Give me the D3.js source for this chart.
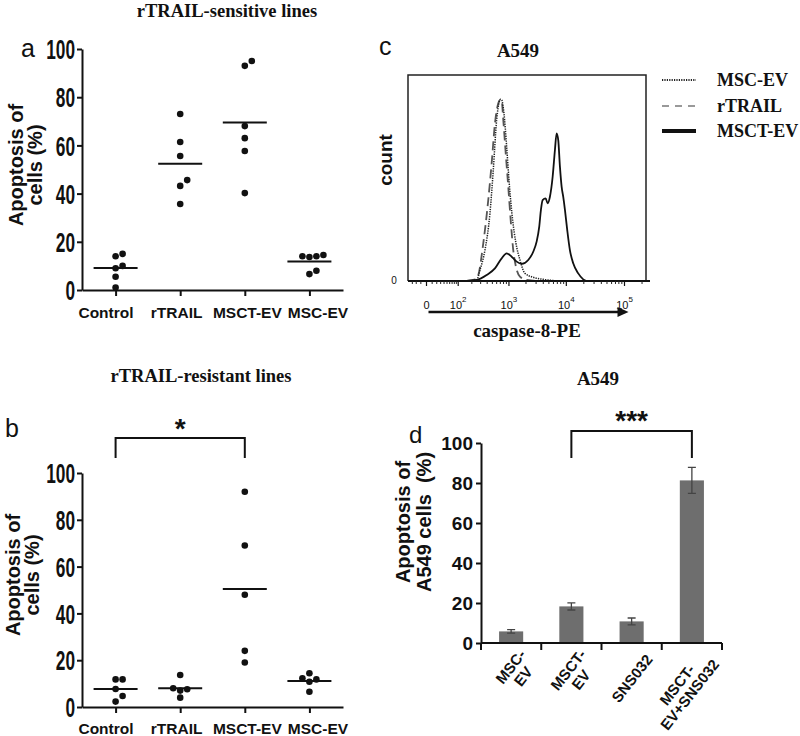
<!DOCTYPE html>
<html>
<head>
<meta charset="utf-8">
<script src="https://cdn.jsdelivr.net/npm/d3@7"></script>
<style>
body { margin: 0; background: #fff; }
svg text { fill: #111; }
.sans { font-family: "Liberation Sans", Arial, sans-serif; font-weight: bold; }
.serif { font-family: "Liberation Serif", "Times New Roman", serif; font-weight: bold; }
.axis path, .axis line { stroke: #111; stroke-width: 2; }
.ytick text { font-family: "Liberation Sans", Arial, sans-serif; font-weight: bold; font-size: 27px; }
.dtick text { font-family: "Liberation Sans", Arial, sans-serif; font-weight: bold; font-size: 19px; }
</style>
</head>
<body>
<div id="canvas"></div>
<script>
// ---- data ----
var groupsAB = ['Control', 'rTRAIL', 'MSCT-EV', 'MSC-EV'];
var yTicks = [0, 20, 40, 60, 80, 100];

// a: rTRAIL-sensitive lines
var sensControl = [1, 5.5, 9, 10, 14, 15];
var sensRtrail  = [35.7, 43.2, 45.6, 55.6, 61.4, 73];
var sensMsct    = [40.2, 57.7, 63, 68, 93, 95];
var sensMsc     = [6.6, 8, 13.7, 14, 14, 14.5];

// b: rTRAIL-resistant lines
var resControl = [2.3, 4.7, 7.7, 11.8, 11.8];
var resRtrail  = [4.0, 7.0, 7.6, 8.0, 13.7];
var resMsct    = [19, 24, 48, 69, 92];
var resMsc     = [6.5, 10.8, 11.8, 12.3, 14.4];

// c: flow histograms (caspase-8-PE, count)
var mscEvFl    = [156, 250, 291, 363, 451, 520, 600, 670, 710, 740, 814, 910, 1012, 1163, 1332, 1568, 1917, 2676, 3988, 7760];
var mscEvCount = [0, 0.5, 5.3, 15, 32.9, 53.9, 78.2, 87, 88.2, 87.9, 81.4, 65.2, 47.4, 29.6, 18.3, 10.2, 3.7, 1.8, 0.8, 0];
var rtrailFl    = [156, 242, 270, 337, 419, 485, 558, 642, 689, 740, 791, 884, 972, 1085, 1193, 1332, 1568, 2052, 3500];
var rtrailCount = [0, 0.8, 2.9, 18.3, 39.3, 57.1, 76.5, 86.3, 87.9, 87.5, 78.2, 60.4, 45.8, 28.0, 15.0, 6.9, 2.1, 0.5, 0];
var msctEvFl    = [156, 250, 391, 558, 740, 910, 1116, 1370, 1677, 2189, 2676, 3064, 3404, 3640, 3896, 4396, 4756, 5212, 5808, 6360, 6800, 7256, 7760, 8296, 8840, 9468, 10360, 11524, 13144, 16032, 19552, 22352];
var msctEvCount = [0, 0.5, 2.9, 6.1, 11.0, 13.4, 11.8, 9.4, 8.3, 10.2, 14.2, 19.1, 26.4, 34.5, 39.3, 40.1, 37.7, 40.9, 50.6, 63.6, 71.7, 68.4, 55.5, 45.8, 40.9, 34.5, 24.8, 15.0, 8.6, 3.7, 0.8, 0];
var flMajor = [0, 100, 1000, 10000, 100000];
var flMajorLabels = [['0', ''], ['10', '2'], ['10', '3'], ['10', '4'], ['10', '5']];
var legendNames = ['MSC-EV', 'rTRAIL', 'MSCT-EV'];

// d: A549 bars
var barGroups = ['MSC-EV', 'MSCT-EV', 'SNS032', 'MSCT-EV+SNS032'];
var barLabelLines = [['MSC-', 'EV'], ['MSCT-', 'EV'], ['SNS032'], ['MSCT-', 'EV+SNS032']];
var barMeans = [5.8, 18.3, 10.8, 81.3];
var barErr = [0.9, 1.8, 1.7, 6.5];

var svg = d3.select('#canvas').append('svg')
    .attr('width', 800)
    .attr('height', 736);

function txt(x, y, s, cls, size, anchor) {
  return svg.append('text').attr('x', x).attr('y', y).attr('class', cls)
    .attr('font-size', size).attr('text-anchor', anchor || 'middle').text(s);
}

// spread dots that would overlap (GraphPad style)
function swarm(vals, y, d) {
  var placed = [];
  vals.slice().sort(d3.ascending).forEach(function(v) {
    var py = y(v), offs = [0], k;
    for (k = 1; k < 6; k++) { offs.push(k * d, -k * d); }
    for (k = 0; k < offs.length; k++) {
      var ok = placed.every(function(q) { return Math.hypot(q.dx - offs[k], q.py - py) >= d - 0.01; });
      if (ok) break;
    }
    placed.push({v: v, py: py, dx: offs[k]});
  });
  return placed;
}

var squeeze = 0.64; // tick digits in a/b are very condensed

function scatterPanel(p) {
  var x = d3.scalePoint().domain(groupsAB).range([82, 343]).padding(0.52);
  // category labels are pushed apart a little wider than the ticks
  var xl = d3.scalePoint().domain(groupsAB).range([106, 318]);
  var y = d3.scaleLinear().domain([0, 100]).range([p.y0, p.y100]);
  var g = svg.append('g');

  var ya = g.append('g').attr('class', 'axis ytick')
    .attr('transform', 'translate(82,0)')
    .call(d3.axisLeft(y).tickValues(yTicks).tickSize(5).tickSizeOuter(0).tickPadding(2));
  ya.selectAll('text')
    .attr('x', -7 / squeeze)
    .attr('dy', '0.36em')
    .attr('transform', 'scale(' + squeeze + ',1)');

  g.append('g').attr('class', 'axis')
    .attr('transform', 'translate(0,' + p.y0 + ')')
    .call(d3.axisBottom(x).tickSize(6).tickSizeOuter(0).tickFormat(''));

  g.selectAll('.clab').data(groupsAB).enter().append('text')
    .attr('class', 'sans')
    .attr('font-size', 15.5)
    .attr('text-anchor', 'middle')
    .attr('x', function(d) { return xl(d); })
    .attr('y', p.y0 + p.pad)
    .text(function(d) { return d; });

  p.series.forEach(function(vals, i) {
    var cx = x(groupsAB[i]), m = d3.mean(vals);
    g.append('line')
      .attr('x1', cx - 22).attr('x2', cx + 22)
      .attr('y1', y(m)).attr('y2', y(m))
      .attr('stroke', '#111').attr('stroke-width', 2);
    g.selectAll(null).data(swarm(vals, y, 7)).enter()
      .append('circle')
      .attr('cx', function(d) { return cx + d.dx; })
      .attr('cy', function(d) { return d.py; })
      .attr('r', 3.3)
      .attr('fill', '#111');
  });

  // y title
  var t = svg.append('text').attr('class', 'sans').attr('font-size', 20)
    .attr('text-anchor', 'middle')
    .attr('transform', 'translate(' + p.tx + ',' + p.ty + ') rotate(-90)');
  t.append('tspan').attr('x', 0).attr('y', 0).text('Apoptosis of');
  t.append('tspan').attr('x', 0).attr('y', 19).text('cells (%)');
  return {x: x, y: y, g: g};
}

// ---- panel a ----
txt(227, 17, 'rTRAIL-sensitive lines', 'serif', 18.5);
txt(21, 57, 'a', '', 25, 'start').attr('font-family', 'Liberation Sans, Arial, sans-serif');
scatterPanel({y0: 290, y100: 49, pad: 28, tx: 23, ty: 165,
  series: [sensControl, sensRtrail, sensMsct, sensMsc]});

// ---- panel b ----
txt(201, 382, 'rTRAIL-resistant lines', 'serif', 18.5);
txt(5, 437, 'b', '', 25, 'start').attr('font-family', 'Liberation Sans, Arial, sans-serif');
var pb = scatterPanel({y0: 707, y100: 473, pad: 27, tx: 20, ty: 575,
  series: [resControl, resRtrail, resMsct, resMsc]});
var bx1 = pb.x('Control'), bx2 = pb.x('MSCT-EV');
svg.append('path')
  .attr('d', 'M' + bx1 + ',458V438H' + bx2 + 'V458')
  .attr('fill', 'none').attr('stroke', '#111').attr('stroke-width', 2);
txt((bx1 + bx2) / 2, 438, '*', 'sans', 28);

// ---- panel c ----
txt(379, 55, 'c', '', 25, 'start').attr('font-family', 'Liberation Sans, Arial, sans-serif');
txt(518, 57, 'A549', 'serif', 19);

var fx = d3.scaleSymlog().constant(40).domain([0, 1e5]).range([426.5, 624.5]);
var fy = d3.scaleLinear().domain([0, 100]).range([281, 75]);
var boxL = 408, boxR = 646;

svg.append('path')
  .attr('d', 'M' + boxL + ',' + fy(0) + 'V' + fy(100) + 'H' + boxR + 'V' + fy(0))
  .attr('fill', 'none').attr('stroke', '#222').attr('stroke-width', 1.5);

var curve = d3.line()
  .x(function(d) { return fx(d[0]); })
  .y(function(d) { return fy(d[1]); })
  .curve(d3.curveMonotoneX);

svg.append('path').datum(d3.zip(rtrailFl, rtrailCount))
  .attr('d', curve).attr('fill', 'none')
  .attr('stroke', '#555').attr('stroke-width', 1.8).attr('stroke-dasharray', '9,5');
svg.append('path').datum(d3.zip(mscEvFl, mscEvCount))
  .attr('d', curve).attr('fill', 'none')
  .attr('stroke', '#222').attr('stroke-width', 1.5).attr('stroke-dasharray', '1.3,1.1');
svg.append('path').datum(d3.zip(msctEvFl, msctEvCount))
  .attr('d', curve).attr('fill', 'none')
  .attr('stroke', '#111').attr('stroke-width', 1.8);

// x axis with logicle-like ticks
var minorTicks = [-30, -20, -10, 10, 20, 30, 40, 50, 60, 70, 80, 90];
[100, 1000, 10000, 100000].forEach(function(dec) {
  for (var k = 2; k <= 9; k++) { if (dec * k < 262144) minorTicks.push(dec * k); }
});
svg.append('line').attr('x1', boxL).attr('x2', 650)
  .attr('y1', fy(0)).attr('y2', fy(0))
  .attr('stroke', '#111').attr('stroke-width', 2.2);
svg.selectAll('.mtick').data(minorTicks).enter().append('line')
  .attr('x1', function(d) { return fx(d); }).attr('x2', function(d) { return fx(d); })
  .attr('y1', fy(0)).attr('y2', fy(0) + 3)
  .attr('stroke', '#222').attr('stroke-width', 1);
svg.selectAll('.Mtick').data(flMajor).enter().append('line')
  .attr('x1', function(d) { return fx(d); }).attr('x2', function(d) { return fx(d); })
  .attr('y1', fy(0)).attr('y2', fy(0) + 5)
  .attr('stroke', '#111').attr('stroke-width', 1.2);
var fl = svg.selectAll('.flab').data(flMajor).enter().append('text')
  .attr('x', function(d) { return fx(d); })
  .attr('y', 309)
  .attr('text-anchor', 'middle')
  .attr('font-family', 'Liberation Sans, Arial, sans-serif')
  .attr('font-size', 11);
fl.append('tspan').text(function(d, i) { return flMajorLabels[i][0]; });
fl.append('tspan').attr('dy', -7).attr('font-size', 8)
  .text(function(d, i) { return flMajorLabels[i][1]; });
txt(394, fy(0) + 3, '0', '', 10).attr('font-family', 'Liberation Sans, Arial, sans-serif');

// arrow
var ax0 = fx(0) + 2, ax1 = fx(1e5) + 4;
svg.append('line').attr('x1', ax0).attr('x2', ax1 - 8).attr('y1', 312).attr('y2', 312)
  .attr('stroke', '#111').attr('stroke-width', 2.5);
svg.append('path')
  .attr('d', 'M' + (ax1 - 11) + ',307L' + ax1 + ',312L' + (ax1 - 11) + ',317Z')
  .attr('fill', '#111');
txt(527, 337, 'caspase-8-PE', 'serif', 19);

svg.append('text').attr('class', 'sans').attr('font-size', 19)
  .attr('text-anchor', 'middle')
  .attr('transform', 'translate(392,160) rotate(-90)')
  .text('count');

// legend
var legY = [80, 106, 131];
var legStyle = [
  {c: '#222', w: 1.8, dash: '1.2,1.2'},
  {c: '#999', w: 1.8, dash: '7,6'},
  {c: '#111', w: 4, dash: null}
];
legendNames.forEach(function(n, i) {
  svg.append('line').attr('x1', 662).attr('x2', 696)
    .attr('y1', legY[i]).attr('y2', legY[i])
    .attr('stroke', legStyle[i].c).attr('stroke-width', legStyle[i].w)
    .attr('stroke-dasharray', legStyle[i].dash);
  txt(717, legY[i] + 6, n, 'serif', 18, 'start');
});

// ---- panel d ----
txt(598, 385, 'A549', 'serif', 19);
txt(409, 443, 'd', '', 24, 'start').attr('font-family', 'Liberation Sans, Arial, sans-serif');

var dx = d3.scaleBand().domain(barGroups).range([481, 722]).paddingInner(0.6).paddingOuter(0.3);
var dy = d3.scaleLinear().domain([0, 100]).range([643, 443]);

svg.append('g').attr('class', 'axis dtick')
  .attr('transform', 'translate(481,0)')
  .call(d3.axisLeft(dy).tickValues(yTicks).tickSize(5).tickSizeOuter(0).tickPadding(3));

svg.selectAll('.bar').data(barMeans).enter().append('rect')
  .attr('x', function(d, i) { return dx(barGroups[i]); })
  .attr('y', function(d) { return dy(d); })
  .attr('width', dx.bandwidth())
  .attr('height', function(d) { return dy(0) - dy(d); })
  .attr('fill', '#6e6e6e');

barMeans.forEach(function(m, i) {
  var cx = dx(barGroups[i]) + dx.bandwidth() / 2, lo = dy(m - barErr[i]), hi = dy(m + barErr[i]);
  svg.append('path')
    .attr('d', 'M' + cx + ',' + lo + 'V' + hi + 'M' + (cx - 4) + ',' + hi + 'H' + (cx + 4) + 'M' + (cx - 4) + ',' + lo + 'H' + (cx + 4))
    .attr('stroke', '#444').attr('stroke-width', 1.3).attr('fill', 'none');
});

// x axis line with boundary ticks
var step = dx.step();
svg.append('line').attr('x1', 481).attr('x2', 722).attr('y1', dy(0)).attr('y2', dy(0))
  .attr('stroke', '#111').attr('stroke-width', 2);
svg.selectAll('.dxt').data(d3.range(5)).enter().append('line')
  .attr('x1', function(i) { return 481 + i * step; })
  .attr('x2', function(i) { return 481 + i * step; })
  .attr('y1', dy(0)).attr('y2', dy(0) + 7)
  .attr('stroke', '#111').attr('stroke-width', 2);

// rotated category labels
barLabelLines.forEach(function(lines, i) {
  var cx = dx(barGroups[i]) + dx.bandwidth() / 2;
  var g = svg.append('g')
    .attr('transform', 'translate(' + (cx + 17) + ',' + (dy(0) + 13) + ') rotate(-52)');
  var ts = lines.map(function(s, j) {
    return g.append('text').attr('class', 'sans').attr('font-size', 15)
      .attr('text-anchor', 'middle')
      .attr('y', (j - (lines.length - 1) / 2) * 16 + 6)
      .text(s);
  });
  var maxLen = d3.max(ts, function(t) { return t.node().getComputedTextLength(); });
  ts.forEach(function(t) { t.attr('x', -maxLen / 2); });
});

// significance bracket
var dA = dx('MSCT-EV') + dx.bandwidth() / 2, dB = dx('MSCT-EV+SNS032') + dx.bandwidth() / 2;
svg.append('path')
  .attr('d', 'M' + dA + ',458V431H' + dB + 'V458')
  .attr('fill', 'none').attr('stroke', '#111').attr('stroke-width', 2);
txt((dA + dB) / 2, 430, '***', 'sans', 28);

// y title
var td = svg.append('text').attr('class', 'sans').attr('font-size', 20)
  .attr('text-anchor', 'middle')
  .style('white-space', 'pre')
  .attr('transform', 'translate(410,522) rotate(-90)');
td.append('tspan').attr('x', 0).attr('y', 0).text('Apoptosis of');
td.append('tspan').attr('x', 0).attr('y', 21).text('A549 cells  (%)');
</script>
</body>
</html>
